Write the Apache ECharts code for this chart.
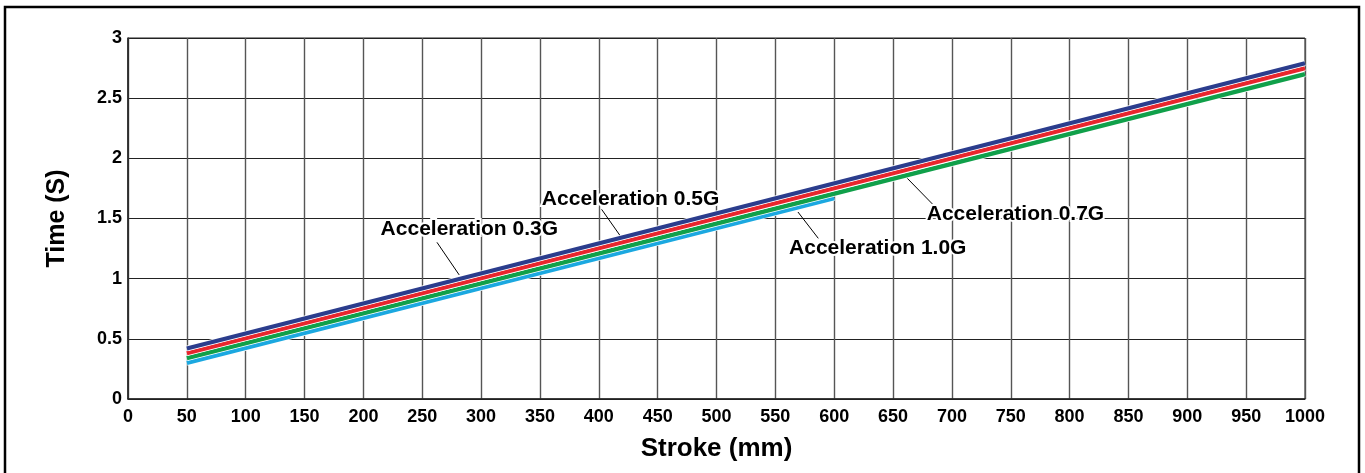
<!DOCTYPE html>
<html>
<head>
<meta charset="utf-8">
<script src="https://cdn.jsdelivr.net/npm/echarts@6/dist/echarts.min.js"></script>
<style>
html,body{margin:0;padding:0;background:#fff;}
#chart{width:1365px;height:473px;}
</style>
</head>
<body>
<div id="chart"></div>
<script>
// ---- data ----
const strokeFull = [50, 1000];
const strokeShort = [50, 600];
const time03G = [0.42, 2.79];
const time05G = [0.38, 2.75];
const time07G = [0.34, 2.70];
const time10G = [0.30, 1.67];
const seriesNames = ['Acceleration 0.3G', 'Acceleration 0.5G', 'Acceleration 0.7G', 'Acceleration 1.0G'];
// annotation anchors (data coordinates): text centre, leader start, leader end
const labelAt = [[290, 1.41], [427, 1.662], [754, 1.537], [637, 1.251]];
const leaderFrom = [[262.5, 1.302], [402.4, 1.576], [683.4, 1.621], [586.5, 1.335]];
const leaderTo = [[281.4, 1.031], [422.3, 1.299], [662.1, 1.834], [569.2, 1.554]];

const colors = ['#2b3d8d', '#e8262d', '#10a04a', '#1ba8e0'];
const FONT = 'Liberation Sans, Arial, Helvetica, sans-serif';

function pairs(xs, ys){ return xs.map((x,i)=>[x, ys[i]]); }

const seriesData = [
  pairs(strokeFull, time03G),
  pairs(strokeFull, time05G),
  pairs(strokeFull, time07G),
  pairs(strokeShort, time10G)
];

const order = [3, 2, 1, 0];
const series = [];
order.forEach((i, k) => {
  // white halo underneath each line
  series.push({
    name: seriesNames[i] + ' halo',
    type: 'line',
    data: seriesData[i],
    showSymbol: false,
    symbol: 'none',
    silent: true,
    lineStyle: { color: '#fff', width: 5.8 },
    z: 3 + 2 * k
  });
  series.push({
    name: seriesNames[i],
    type: 'line',
    data: seriesData[i],
    showSymbol: false,
    symbol: 'none',
    lineStyle: { color: colors[i], width: 4.3 },
    z: 4 + 2 * k,
    markLine: {
      silent: true,
      symbol: ['none', 'none'],
      label: { show: false },
      lineStyle: { color: '#000', width: 1, type: 'solid' },
      data: [[{ coord: leaderFrom[i] }, { coord: leaderTo[i] }]],
      animation: false
    },
    markPoint: {
      silent: true,
      symbol: 'rect',
      symbolSize: 1,
      itemStyle: { color: 'rgba(0,0,0,0)' },
      label: {
        show: true,
        position: 'inside',
        formatter: seriesNames[i],
        color: '#000',
        fontFamily: FONT,
        fontWeight: 'bold',
        fontSize: 21,
        textBorderColor: '#fff',
        textBorderWidth: 4
      },
      data: [{ coord: labelAt[i] }],
      animation: false
    }
  });
});

const chart = echarts.init(document.getElementById('chart'), null, { renderer: 'canvas' });
chart.setOption({
  animation: false,
  backgroundColor: '#fff',
  grid: { left: 128, right: 60, top: 38, bottom: 74, show: true, borderColor: '#222', borderWidth: 1 },
  xAxis: {
    type: 'value', min: 0, max: 1000, interval: 50,
    name: 'Stroke (mm)', nameLocation: 'middle', nameGap: 37,
    nameTextStyle: { fontFamily: FONT, fontWeight: 'bold', fontSize: 26, color: '#000' },
    axisLine: { show: true, lineStyle: { color: '#222', width: 1.5 } },
    axisTick: { show: false },
    axisLabel: { fontFamily: FONT, fontWeight: 'bold', fontSize: 18, color: '#000', margin: 9,
      formatter: v => String(v) },
    splitLine: { show: true, lineStyle: { color: '#555', width: 1.4 } }
  },
  yAxis: {
    type: 'value', min: 0, max: 3, interval: 0.5,
    name: 'Time (S)', nameLocation: 'middle', nameGap: 58, nameRotate: 90,
    nameTextStyle: { fontFamily: FONT, fontWeight: 'bold', fontSize: 25, color: '#000' },
    axisLine: { show: true, lineStyle: { color: '#222', width: 1.5 } },
    axisTick: { show: false },
    axisLabel: { fontFamily: FONT, fontWeight: 'bold', fontSize: 18, color: '#000', margin: 6,
      formatter: v => String(v) },
    splitLine: { show: true, lineStyle: { color: '#222', width: 1 } }
  },
  graphic: [{
    type: 'rect', silent: true, z: 100,
    shape: { x: 5, y: 7, width: 1354, height: 480 },
    style: { fill: 'none', stroke: '#000', lineWidth: 2.5 }
  }],
  series: series
});
</script>
</body>
</html>
